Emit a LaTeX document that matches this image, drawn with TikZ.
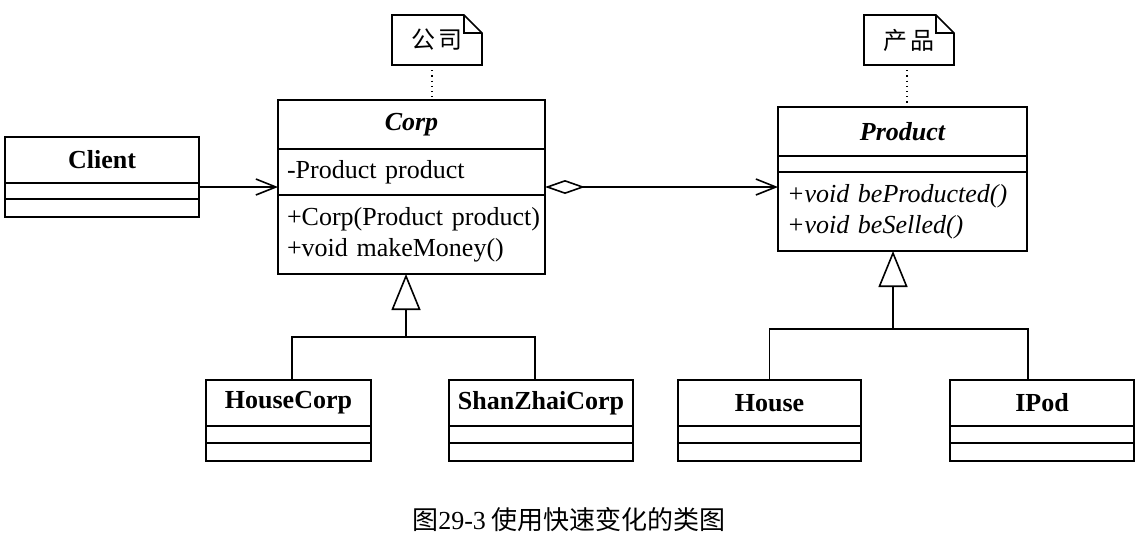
\documentclass[tikz,border=0pt]{standalone}
\usepackage{fontspec}
\setmainfont{Liberation Serif}
\newfontfamily\cjk{Noto Sans CJK SC}
\usetikzlibrary{positioning, arrows.meta}

\begin{document}
\begin{tikzpicture}[x=0.5pt, y=-0.5pt, line width=0.8pt,
    classhead/.style = {draw, outer sep=0pt, inner sep=0pt, font=\fontsize{13}{15}\selectfont\bfseries},
    classpart/.style = {draw, outer sep=0pt, inner xsep=4.5pt, inner ysep=0pt, align=left, font=\fontsize{13}{15.5}\selectfont},
    notebox/.style = {outer sep=0pt, inner sep=0pt, minimum width=45pt, minimum height=25pt, font=\cjk\fontsize{12}{14}\selectfont},
    openarrow/.style = {-{Straight Barb[length=10pt, width=8pt]}},
    inherit/.style = {-{Triangle[open, length=18pt, width=14.5pt]}}]

    \useasboundingbox (0,0) rectangle (1140,547);

    % Client
    \node[classhead, minimum width=97pt, minimum height=23pt] (client) at (102,160) {Client};
    \node[classpart, below=0pt of client, text width=88pt, minimum height=8pt] (clientattr) {};
    \node[classpart, below=0pt of clientattr, text width=88pt, minimum height=9pt] (clientops) {};

    % Corp
    \node[classhead, minimum width=133.5pt, minimum height=24.5pt, font=\fontsize{13}{15}\selectfont\bfseries\itshape] (corp) at (411.5,124.5) {Corp};
    \node[classpart, below=0pt of corp, text width=124.5pt, minimum height=23pt] (corpattr) {\mbox{-Product product}};
    \node[classpart, below=0pt of corpattr, text width=124.5pt, minimum height=39.5pt] (corpops) {\mbox{+Corp(Product product)}\\\mbox{+void makeMoney()}};

    % Product
    \node[classhead, minimum width=124.5pt, minimum height=24.5pt, font=\fontsize{13}{15}\selectfont\bfseries\itshape] (product) at (902.5,131.5) {Product};
    \node[classpart, below=0pt of product, text width=115.5pt, minimum height=8pt] (productattr) {};
    \node[classpart, below=0pt of productattr, text width=115.5pt, minimum height=39.5pt, font=\fontsize{13}{15.5}\selectfont\itshape] (productops) {\mbox{+void beProducted()}\\\mbox{+void beSelled()}};

    % subclasses
    \node[classhead, minimum width=82.5pt, minimum height=23pt] (housecorp) at (288.5,403) {HouseCorp};
    \node[classpart, below=0pt of housecorp, text width=73.5pt, minimum height=8.5pt] (housecorpattr) {};
    \node[classpart, below=0pt of housecorpattr, text width=73.5pt, minimum height=9pt] (housecorpops) {};

    \node[classhead, minimum width=92pt, minimum height=23pt] (shanzhai) at (541,403) {ShanZhaiCorp};
    \node[classpart, below=0pt of shanzhai, text width=83pt, minimum height=8.5pt] (shanzhaiattr) {};
    \node[classpart, below=0pt of shanzhaiattr, text width=83pt, minimum height=9pt] (shanzhaiops) {};

    \node[classhead, minimum width=91.5pt, minimum height=23pt] (house) at (769.5,403) {House};
    \node[classpart, below=0pt of house, text width=82.5pt, minimum height=8.5pt] (houseattr) {};
    \node[classpart, below=0pt of houseattr, text width=82.5pt, minimum height=9pt] (houseops) {};

    \node[classhead, minimum width=92pt, minimum height=23pt] (ipod) at (1042,403) {IPod};
    \node[classpart, below=0pt of ipod, text width=83pt, minimum height=8.5pt] (ipodattr) {};
    \node[classpart, below=0pt of ipodattr, text width=83pt, minimum height=9pt] (ipodops) {};

    % notes
    \node[notebox] (corpnote) at (437,40) {公\hspace{2pt}司\hspace{6pt}};
    \draw (corpnote.north west) -- ([xshift=-9pt]corpnote.north east) -- ([yshift=-9pt]corpnote.north east) -- (corpnote.south east) -- (corpnote.south west) -- cycle;
    \draw ([xshift=-9pt]corpnote.north east) |- ([yshift=-9pt]corpnote.north east);

    \node[notebox] (productnote) at (909,40) {产\hspace{2pt}品\hspace{6pt}};
    \draw (productnote.north west) -- ([xshift=-9pt]productnote.north east) -- ([yshift=-9pt]productnote.north east) -- (productnote.south east) -- (productnote.south west) -- cycle;
    \draw ([xshift=-9pt]productnote.north east) |- ([yshift=-9pt]productnote.north east);

    \coordinate (corpdot) at ([xshift=-2.5pt]corpnote.south);
    \coordinate (productdot) at ([xshift=-1pt]productnote.south);
    \draw[dotted, line width=0.6pt] (corpdot) -- (corpdot |- corp.north);
    \draw[dotted, line width=0.6pt] (productdot) -- (productdot |- product.north);

    % associations
    \coordinate (clientout) at ([yshift=-2pt]clientattr.north east);
    \draw[openarrow] (clientout) -- (clientout -| corpattr.west);

    \coordinate (corpout) at ([yshift=4pt]corpops.north east);
    \draw[{Diamond[open, length=20pt, width=7pt]}-{Straight Barb[length=10pt, width=8pt]}] (corpout) -- (corpout -| productops.west);

    % generalization
    \coordinate (corpjoin) at (406,337);
    \draw ([xshift=1.75pt]housecorp.north) |- (corpjoin) -| ([xshift=-3pt]shanzhai.north);
    \draw[inherit] (corpjoin) -- (corpjoin |- corpops.south);

    \coordinate (productjoin) at (893,329);
    \draw (house.north) |- (productjoin) -| ([xshift=-7pt]ipod.north);
    \draw[inherit] (productjoin) -- (productjoin |- productops.south);

    \node[font=\cjk\fontsize{13}{15}\selectfont] (caption) at (569,520) {图{\rmfamily 29-3} 使用快速变化的类图};

\end{tikzpicture}
\end{document}
